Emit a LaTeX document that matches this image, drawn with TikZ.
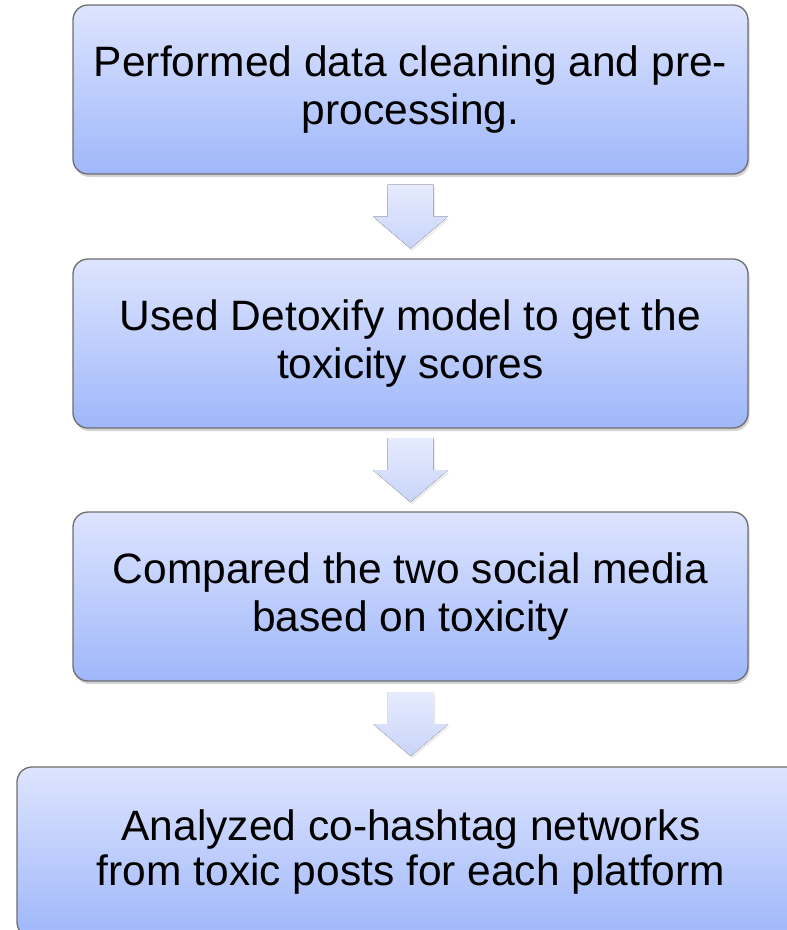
\documentclass[tikz,border=0pt]{standalone}
\usepackage{fontspec}
\setmainfont{Liberation Sans}
\usetikzlibrary{calc,shadows}

\definecolor{boxtop}{HTML}{DDE4FE}
\definecolor{boxbottom}{HTML}{9FB7FA}
\definecolor{boxline}{HTML}{6E6E6E}
\definecolor{arrowtop}{HTML}{E6EBFD}
\definecolor{arrowbottom}{HTML}{C8D4FA}

\tikzset{every picture/.style={line width=0.75pt}}
\tikzset{
  stepbox/.style={draw=boxline, line width=1.3pt, rounded corners=15pt,
    top color=boxtop, bottom color=boxbottom,
    minimum width=675, minimum height=169, inner sep=0pt, align=center,
    font=\fontsize{42.5}{48}\selectfont,
    drop shadow={opacity=0.35, shadow xshift=1.5pt, shadow yshift=-3pt}},
  flowarrow/.style={top color=arrowtop, bottom color=arrowbottom,
    drop shadow={opacity=0.15, shadow xshift=1.5pt, shadow yshift=-2.5pt}}
}

\begin{document}
\begin{tikzpicture}[x=1pt,y=1pt]
    \useasboundingbox (0,0) rectangle (787,-930);
    \clip (0,0) rectangle (787,-930);

    % Step boxes
    \node [stepbox] (clean) at (410.5,-89.5) {Performed data cleaning and pre-\\processing.};
    \node [stepbox] (score) at (410.5,-343.5) {Used Detoxify model to get the\\toxicity scores};
    \node [stepbox] (compare) at (410.5,-596.5) {Compared the two social media\\based on toxicity};
    \node [stepbox, minimum width=788, minimum height=170, font=\fontsize{42.5}{45}\selectfont] (network) at (411,-852) {Analyzed co-hashtag networks\\from toxic posts for each platform};

    %Block Arrow [clean -> score]
    \coordinate (a1) at ($(clean.south)!0.5!(score.north)$);
    \fill [flowarrow] ($(a1)+(-23,32)$) -- ($(a1)+(23,32)$) -- ($(a1)+(23,0)$) -- ($(a1)+(37.5,0)$) -- ($(a1)+(0,-32)$) -- ($(a1)+(-37.5,0)$) -- ($(a1)+(-23,0)$) -- cycle ;
    %Block Arrow [score -> compare]
    \coordinate (a2) at ($(score.south)!0.5!(compare.north)$);
    \fill [flowarrow] ($(a2)+(-23,32)$) -- ($(a2)+(23,32)$) -- ($(a2)+(23,0)$) -- ($(a2)+(37.5,0)$) -- ($(a2)+(0,-32)$) -- ($(a2)+(-37.5,0)$) -- ($(a2)+(-23,0)$) -- cycle ;
    %Block Arrow [compare -> network]
    \coordinate (a3) at ($(compare.south)!0.5!(network.north)$);
    \fill [flowarrow] ($(a3)+(-23,32)$) -- ($(a3)+(23,32)$) -- ($(a3)+(23,0)$) -- ($(a3)+(37.5,0)$) -- ($(a3)+(0,-32)$) -- ($(a3)+(-37.5,0)$) -- ($(a3)+(-23,0)$) -- cycle ;

\end{tikzpicture}
\end{document}
